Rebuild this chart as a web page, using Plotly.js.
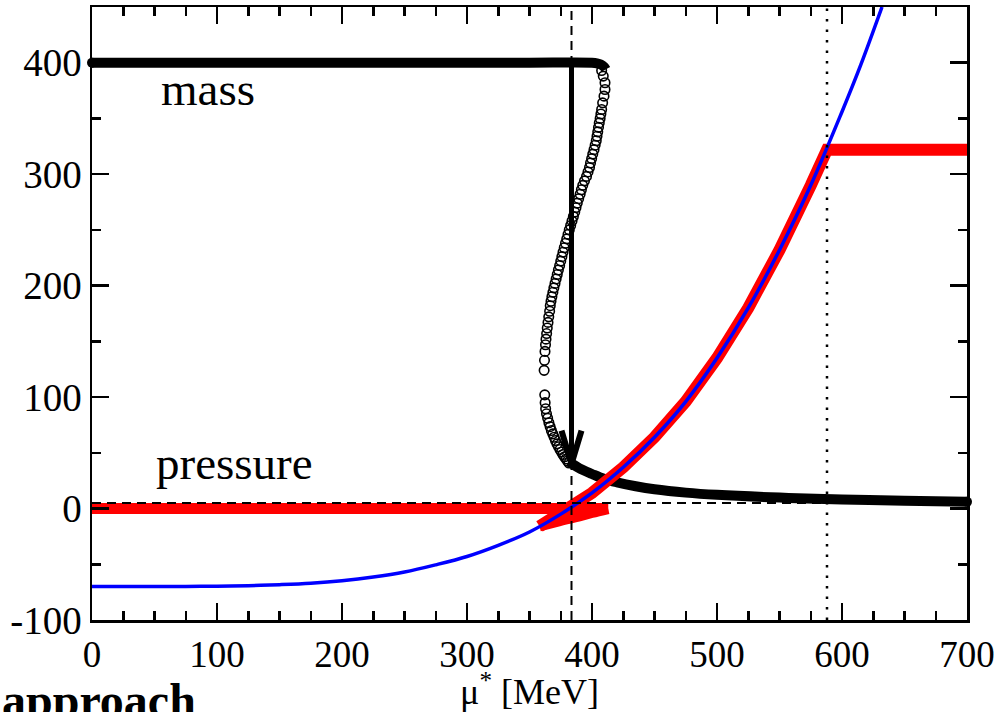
<!DOCTYPE html>
<html>
<head>
<meta charset="utf-8">
<script src="https://cdn.plot.ly/plotly-3.0.1.min.js"></script>
<style>html,body{margin:0;padding:0;background:#fff;}#chart{width:1007px;height:712px;}</style>
</head>
<body>
<div id="chart"></div>
<script>
// ---- data ----
const xTickVals = [0, 100, 200, 300, 400, 500, 600, 700];
const xTickText = ['0', '100', '200', '300', '400', '500', '600', '700'];
const yTickVals = [-100, 0, 100, 200, 300, 400];
const yTickText = ['-100', '0', '100', '200', '300', '400'];

// mass, hadronic (stable) branch
const xMassHad = [0, 100, 200, 300, 350, 400, 404, 407, 409.5, 411];
const yMassHad = [400, 400, 400, 400, 400, 400, 399.5, 398.5, 396.5, 394];
// mass, unstable branch (open circles)
const xMassUnst = [407.7, 409, 410.4, 410.4, 409.6, 408.5, 407.7,
  407.1, 406.5, 405.8, 405.2, 404.6, 404.0, 403.4, 402.5, 401.6, 400.6, 399.7, 398.8, 398.0, 396.8, 395.6, 394.0,
  392.6, 391.5, 390.5, 389.3, 388.2, 387.2, 386.2, 385.1, 384.0, 382.9, 381.8, 380.8, 379.8, 378.8, 377.8, 376.8,
  375.9, 375.0, 374.1, 373.1, 372.2, 371.3, 370.4, 369.5, 368.7, 367.9, 367.2, 366.6,
  366.1, 365.4, 364.8, 364.2, 363.7, 363.2, 362.8, 362.4, 362.0, 361.7,
  362.2, 362.5, 362.9,
  363.6, 364.5, 365.5, 366.5, 367.5, 368.6, 369.7, 370.8, 372.0, 373.2, 374.4, 375.6, 376.8, 378.0, 379.2, 380.4, 381.6];
const yMassUnst = [393, 388, 382, 376, 370, 364, 358,
  354, 350, 346, 342, 338, 334, 330, 326, 322, 318, 314, 310, 306, 302, 298, 294,
  290, 286, 282, 278, 274, 270, 266, 262, 258, 254, 250, 246, 242, 238, 234, 230,
  226, 222, 218, 214, 210, 206, 202, 198, 194, 190, 186, 182,
  177, 172, 167, 162, 157, 152, 147, 141, 133, 124,
  102, 95, 89.5,
  85, 81, 77, 73.5, 70, 67, 64, 61, 58, 55.5, 53, 50.7, 48.5, 46.5, 44.5, 42.6, 40.8];
// mass, quark (stable) branch
const xMassQ = [381.5, 390, 400, 410, 420, 435, 450, 475, 500, 550, 600, 650, 700];
const yMassQ = [42, 36, 31, 26.5, 23.5, 20, 17.3, 14.3, 12.3, 9.8, 8.2, 7, 6];

// pressure (red)
const xPresHad = [0, 100, 200, 300, 413];
const yPresHad = [0, 0, 0, 0, 0];
const xPresUnst = [413, 400, 390, 377, 365, 358];
const yPresUnst = [-0.5, -4, -7, -10.5, -14, -16];
const xPresQ = [358, 375, 400, 425, 450, 475, 500, 525, 550, 575, 588, 700];
const yPresQ = [-16, -5, 14, 37, 64, 96, 135, 180, 232, 290, 322, 322];

// blue curve
const xBlue = [0, 25, 50, 75, 100, 125, 150, 175, 200, 225, 250, 275, 300, 325, 350, 375, 400, 425, 450, 475, 500, 525, 550, 575, 600, 615, 632];
const yBlue = [-70, -70, -70, -69.9, -69.7, -69.2, -68.3, -67, -64.8, -61.5, -57, -50.5, -43, -33, -21, -5, 14, 37, 64, 96, 135, 180, 232, 290, 356, 398, 450];

// reference lines
const xDashH = [0, 700];
const yDashH = [5, 5];
const xDashV = [383.6, 383.6];
const yDashV = [-100, 450];
const xDotV = [588, 588];
const yDotV = [-100, 450];

// arrow (shaft and open V head)
const xArrowShaft = [383.6, 383.6];
const yArrowShaft = [400, 42];
const xArrowHead = [375.6, 383.6, 391.6];
const yArrowHead = [70, 40, 70];

const traces = [
  {x: xMassHad, y: yMassHad, mode: 'lines', line: {color: 'black', width: 10, shape: 'spline'}},
  {x: [xMassHad[0]], y: [yMassHad[0]], mode: 'markers', marker: {color: 'black', size: 10}, cliponaxis: false},
  {x: xMassQ, y: yMassQ, mode: 'lines', line: {color: 'black', width: 10, shape: 'spline'}},
  {x: [xMassQ[xMassQ.length - 1]], y: [yMassQ[yMassQ.length - 1]], mode: 'markers', marker: {color: 'black', size: 10}, cliponaxis: false},
  {x: xMassUnst, y: yMassUnst, mode: 'markers', marker: {symbol: 'circle-open', size: 9.5, color: 'black', line: {width: 1.6, color: 'black'}}},
  {x: xPresHad, y: yPresHad, mode: 'lines', line: {color: '#ff0000', width: 11}},
  {x: xPresUnst, y: yPresUnst, mode: 'lines', line: {color: '#ff0000', width: 10, shape: 'spline'}},
  {x: xPresQ, y: yPresQ, mode: 'lines', line: {color: '#ff0000', width: 12}},
  {x: xBlue, y: yBlue, mode: 'lines', line: {color: '#0000ff', width: 3.5, shape: 'spline'}},
  {x: xDashH, y: yDashH, mode: 'lines', line: {color: 'black', width: 2, dash: '9px,6px'}},
  {x: xDashV, y: yDashV, mode: 'lines', line: {color: 'black', width: 2, dash: '9px,6px'}},
  {x: xDotV, y: yDotV, mode: 'lines', line: {color: 'black', width: 2.5, dash: '2.5px,8px'}},
  {x: xArrowShaft, y: yArrowShaft, mode: 'lines', line: {color: 'black', width: 5}},
  {x: xArrowHead, y: yArrowHead, mode: 'lines', line: {color: 'black', width: 6}}
];

const serif = 'Liberation Serif, Times New Roman, serif';

const layout = {
  width: 1007, height: 712,
  margin: {l: 92, r: 40, t: 7, b: 92, pad: 0},
  paper_bgcolor: 'white', plot_bgcolor: 'white',
  showlegend: false,
  font: {family: serif, color: 'black'},
  xaxis: {
    range: [0, 700], tickmode: 'array', tickvals: xTickVals, ticktext: xTickText,
    ticks: 'inside', ticklen: 17, tickwidth: 2.5, tickcolor: 'black',
    showline: true, linewidth: 2.5, linecolor: 'black', mirror: 'ticks',
    showgrid: false, zeroline: false,
    tickfont: {family: serif, size: 37, color: 'black'},
    minor: {tickmode: 'linear', tick0: 0, dtick: 25, ticks: 'inside', ticklen: 9, tickwidth: 2.5, tickcolor: 'black', showgrid: false},
    title: {text: 'μ<sup>*</sup> [MeV]', font: {family: serif, size: 36, color: 'black'}, standoff: 6},
    automargin: false
  },
  yaxis: {
    range: [-100, 450], tickmode: 'array', tickvals: yTickVals, ticktext: yTickText,
    ticks: 'inside', ticklen: 17, tickwidth: 2.5, tickcolor: 'black',
    showline: true, linewidth: 2.5, linecolor: 'black', mirror: 'ticks',
    showgrid: false, zeroline: false,
    tickfont: {family: serif, size: 39, color: 'black'},
    minor: {tickmode: 'linear', tick0: 0, dtick: 50, ticks: 'inside', ticklen: 9, tickwidth: 2.5, tickcolor: 'black', showgrid: false},
    automargin: false
  },
  annotations: [
    {x: 53.6, y: 376.5, xref: 'x', yref: 'y', xanchor: 'left', yanchor: 'middle', text: 'mass', showarrow: false,
     font: {family: serif, size: 47, color: 'black'}},
    {x: 49.6, y: 41, xref: 'x', yref: 'y', xanchor: 'left', yanchor: 'middle', text: 'pressure', showarrow: false,
     font: {family: serif, size: 47, color: 'black'}},
    {x: -0.105, y: -0.085, xref: 'paper', yref: 'paper', xanchor: 'left', yanchor: 'top', text: '<b>approach</b>', showarrow: false,
     font: {family: serif, size: 48, color: 'black'}}
  ]
};

Plotly.newPlot('chart', traces, layout, {staticPlot: true, displayModeBar: false});
</script>
</body>
</html>
